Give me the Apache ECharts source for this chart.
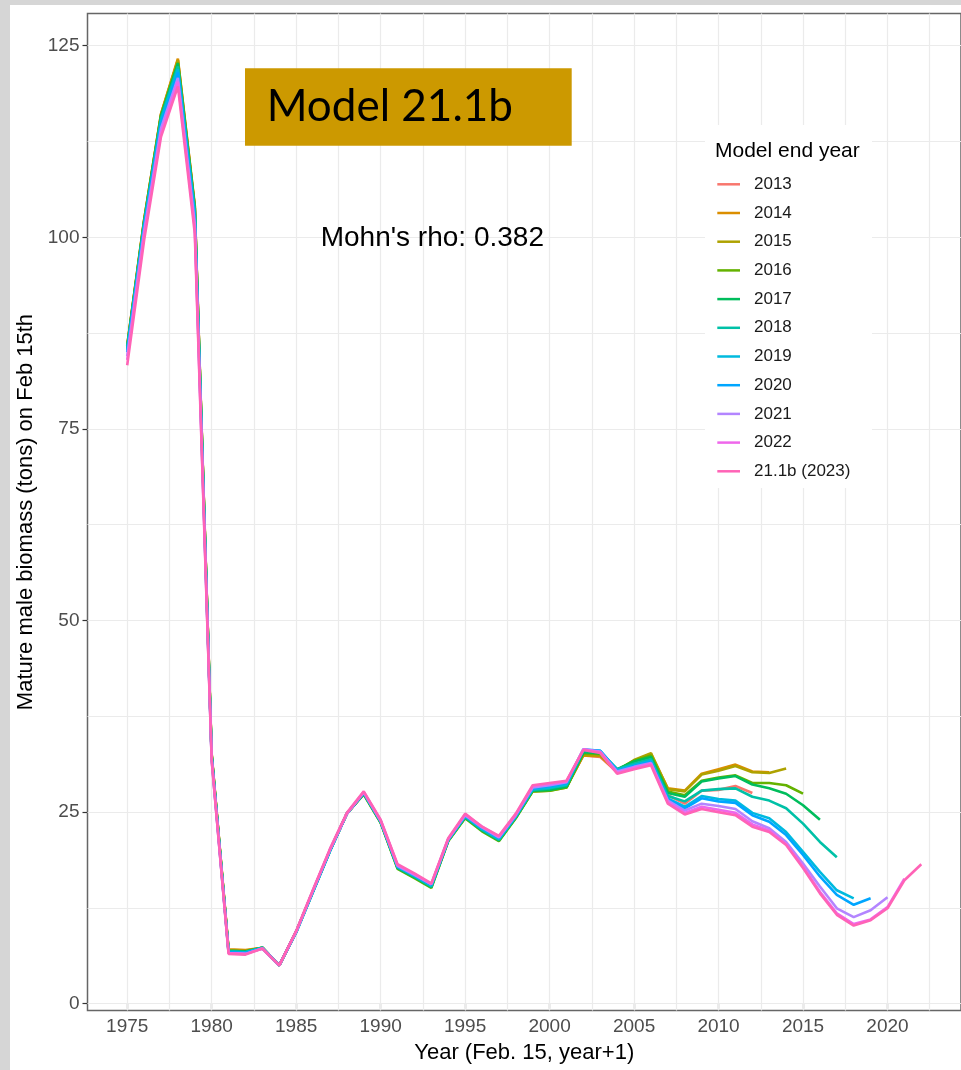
<!DOCTYPE html>
<html><head><meta charset="utf-8">
<script src="https://cdn.jsdelivr.net/npm/echarts@6/dist/echarts.min.js"></script>
<style>html,body{margin:0;padding:0;background:#fff}#c{width:961px;height:1070px}</style>
</head><body><div id="c"></div>
<script>
// ---- data ----
var years = [1975,1976,1977,1978,1979,1980,1981,1982,1983,1984,1985,1986,1987,1988,1989,1990,1991,1992,1993,1994,1995,1996,1997,1998,1999,2000,2001,2002,2003,2004,2005,2006,2007,2008,2009,2010,2011,2012,2013,2014,2015,2016,2017,2018,2019,2020,2021,2022];
var seriesNames = ['2013','2014','2015','2016','2017','2018','2019','2020','2021','2022','21.1b (2023)'];
var seriesColors = ['#F8766D','#DB8E00','#AEA200','#64B200','#00BD5C','#00C1A7','#00BADE','#00A6FF','#B385FF','#EF67EB','#FF63B6'];
var s2013 = [85.8,102.2,116.0,123.1,104.0,32.5,7.0,6.9,7.3,5.0,9.4,14.7,20.0,24.8,27.4,23.7,17.8,16.6,15.3,21.3,24.3,22.7,21.4,24.3,27.8,27.9,28.3,32.4,32.2,30.2,31.4,32.0,27.2,26.1,27.8,27.9,28.4,27.5];
var s2014 = [85.9,102.3,116.1,123.3,104.2,32.6,7.1,7.0,7.3,5.0,9.4,14.7,20.0,24.8,27.4,23.7,17.8,16.6,15.3,21.3,24.3,22.7,21.4,24.3,27.8,27.9,28.3,32.4,32.3,30.3,31.7,32.6,28.1,27.8,30.0,30.6,31.2,30.3,30.2];
var s2015 = [85.8,102.2,116.0,123.1,104.0,32.5,7.0,6.9,7.3,5.0,9.4,14.7,20.0,24.8,27.4,23.7,17.8,16.6,15.3,21.3,24.3,22.7,21.3,24.3,27.7,27.8,28.2,32.5,32.4,30.4,31.8,32.7,28.0,27.7,29.9,30.4,31.0,30.2,30.1,30.7];
var s2016 = [85.6,102.0,115.8,122.8,103.8,32.4,6.9,6.8,7.3,5.0,9.4,14.7,20.0,24.8,27.3,23.6,17.6,16.4,15.1,21.2,24.2,22.5,21.2,24.2,27.7,27.8,28.2,32.7,32.6,30.5,31.7,32.4,27.7,27.2,29.1,29.5,29.8,28.8,28.8,28.5,27.4];
var s2017 = [85.7,102.0,115.8,122.7,103.8,32.4,6.9,6.8,7.3,5.0,9.4,14.7,20.0,24.8,27.4,23.7,17.7,16.5,15.2,21.3,24.3,22.6,21.3,24.3,27.8,27.9,28.3,32.8,32.7,30.6,31.6,32.2,27.5,27.0,29.0,29.4,29.7,28.6,28.1,27.4,25.9,24.0];
var s2018 = [85.5,101.8,115.5,122.3,103.5,32.3,6.8,6.7,7.3,5.0,9.3,14.6,19.9,24.8,27.4,23.7,17.8,16.6,15.3,21.3,24.4,22.7,21.4,24.4,27.9,28.1,28.5,33.0,32.9,30.6,31.3,31.9,27.1,26.4,27.8,28.0,28.1,27.0,26.5,25.5,23.5,21.1,19.1];
var s2019 = [85.3,101.6,115.2,121.9,103.0,32.2,6.8,6.7,7.3,5.0,9.3,14.6,19.9,24.8,27.5,23.8,17.9,16.7,15.4,21.4,24.5,22.8,21.5,24.5,28.0,28.2,28.6,33.1,33.0,30.5,31.1,31.7,26.8,25.7,27.1,26.7,26.5,24.9,24.2,22.4,19.8,17.2,14.8,13.75];
var s2020 = [85.0,101.3,114.8,121.5,102.5,32.1,6.7,6.6,7.2,5.0,9.4,14.7,20.0,24.8,27.5,23.8,17.9,16.7,15.5,21.4,24.5,22.9,21.6,24.5,28.1,28.4,28.8,33.2,33.0,30.4,31.0,31.6,26.7,25.5,26.8,26.4,26.2,24.6,23.75,22.0,19.4,16.6,14.2,12.9,13.75];
var s2021 = [84.5,100.8,114.2,120.8,101.8,31.9,6.6,6.5,7.2,5.0,9.4,14.8,20.1,24.8,27.6,23.9,18.0,16.8,15.6,21.5,24.6,23.0,21.7,24.6,28.2,28.5,28.9,33.2,32.9,30.3,30.9,31.4,26.5,25.2,26.1,25.8,25.4,23.8,22.9,21.1,18.3,15.3,12.45,11.3,12.2,13.9];
var s2022 = [84.0,100.3,113.6,120.3,101.2,31.8,6.6,6.5,7.2,5.0,9.4,14.8,20.1,24.8,27.6,23.9,18.1,16.9,15.6,21.5,24.7,23.1,21.8,24.7,28.4,28.7,29.0,33.2,32.8,30.1,30.8,31.3,26.3,24.9,25.7,25.3,24.9,23.4,22.6,20.8,17.9,14.6,11.8,10.4,11.0,12.6,16.3];
var s2023 = [83.3,99.6,113.1,119.7,100.5,31.7,6.5,6.4,7.2,5.0,9.5,14.9,20.2,24.9,27.7,24.0,18.2,17.0,15.7,21.6,24.8,23.1,21.9,24.8,28.5,28.8,29.1,33.1,32.7,30.0,30.6,31.1,26.1,24.7,25.4,25.0,24.6,23.1,22.4,20.7,17.7,14.4,11.6,10.2,10.9,12.45,16.1,18.2];
var xTickValues = [1975,1980,1985,1990,1995,2000,2005,2010,2015,2020];
var xMinorBreaks = [1977.5,1982.5,1987.5,1992.5,1997.5,2002.5,2007.5,2012.5,2017.5,2022.5];
var yTickValues = [0,25,50,75,100,125];
var yMinorBreaks = [12.5,37.5,62.5,87.5,112.5];

var allSeries = [s2013,s2014,s2015,s2016,s2017,s2018,s2019,s2020,s2021,s2022,s2023];
var FONT = '"Liberation Sans", Arial, sans-serif';

var chart = echarts.init(document.getElementById('c'), null, {renderer:'canvas'});

var gridLineData = [];
xTickValues.concat(xMinorBreaks).forEach(function(v){ gridLineData.push({xAxis: v}); });
yTickValues.concat(yMinorBreaks).forEach(function(v){ gridLineData.push({yAxis: v}); });

var series = [{
  type:'line', name:'_grid', data:[], z:1, silent:true, animation:false,
  markLine:{z:1, zlevel:0, silent:true, animation:false, symbol:['none','none'], label:{show:false},
    lineStyle:{color:'#EBEBEB', width:1.2, type:'solid'}, emphasis:{disabled:true}, data:gridLineData}
}];
allSeries.forEach(function(arr, i){
  series.push({
    type:'line', name:seriesNames[i], z:2,
    data: arr.map(function(v, j){ return [years[j], v]; }),
    symbol:'none', showSymbol:false, color:seriesColors[i],
    lineStyle:{width:2.6, color:seriesColors[i]},
    emphasis:{disabled:true}, animation:false
  });
});

chart.setOption({
  backgroundColor:'#ffffff',
  animation:false,
  grid:{left:87.5, top:13.5, right:0, bottom:59.4, show:true, borderColor:'#666', borderWidth:1.5, outerBoundsMode:'none', containLabel:false},
  xAxis:{type:'value', min:1972.65, max:2024.35,
    name:'Year (Feb. 15, year+1)', nameLocation:'middle', nameGap:31,
    nameTextStyle:{fontSize:22, color:'#000', fontFamily:FONT},
    axisLine:{show:false}, splitLine:{show:false},
    axisTick:{show:true, length:5, customValues:xTickValues, lineStyle:{color:'#333', width:1.2}},
    axisLabel:{customValues:xTickValues, fontSize:19, color:'#4D4D4D', fontFamily:FONT, margin:7,
      formatter:function(v){return String(v);}}
  },
  yAxis:{type:'value', min:-0.9, max:129.2,
    name:'Mature male biomass (tons) on Feb 15th', nameLocation:'middle', nameRotate:90, nameGap:50,
    nameTextStyle:{fontSize:22, color:'#000', fontFamily:FONT},
    axisLine:{show:false}, splitLine:{show:false},
    axisTick:{show:true, length:5, customValues:yTickValues, lineStyle:{color:'#333', width:1.2}},
    axisLabel:{customValues:yTickValues, fontSize:19, color:'#4D4D4D', fontFamily:FONT, margin:8,
      formatter:function(v){return String(v);}}
  },
  legend:{
    data:seriesNames, orient:'vertical', left:717.3, top:174.3, padding:0, z:6,
    itemWidth:22.7, itemHeight:2.5, itemGap:8.7, icon:'rect', selectedMode:false,
    textStyle:{fontSize:17, color:'#1A1A1A', fontFamily:FONT, lineHeight:20, padding:[0,0,0,9]}
  },
  graphic:[
    {type:'rect', z:0, silent:true, shape:{x:0,y:0,width:10,height:1070}, style:{fill:'#D6D6D6'}},
    {type:'rect', z:0, silent:true, shape:{x:0,y:0,width:961,height:5}, style:{fill:'#D6D6D6'}},
    {type:'rect', z:10, silent:true, shape:{x:245,y:68.3,width:326.7,height:77.4}, style:{fill:'#CC9900'}},
    {type:'text', z:11, silent:true, style:{text:'Model 21.1b', x:266.7, y:107, fill:'#000',
      font:'44px Lato, "Open Sans", sans-serif', align:'left', verticalAlign:'middle'}},
    {type:'text', z:11, silent:true, style:{text:"Mohn's rho: 0.382", x:320.7, y:238.5, fill:'#000',
      font:'28px ' + FONT, align:'left', verticalAlign:'middle'}},
    {type:'rect', z:5, silent:true, shape:{x:705,y:125,width:167,height:363}, style:{fill:'#fff'}},
    {type:'text', z:7, silent:true, style:{text:'Model end year', x:715, y:151.7, fill:'#000',
      font:'21px ' + FONT, align:'left', verticalAlign:'middle'}}
  ],
  series:series
});
</script></body></html>
